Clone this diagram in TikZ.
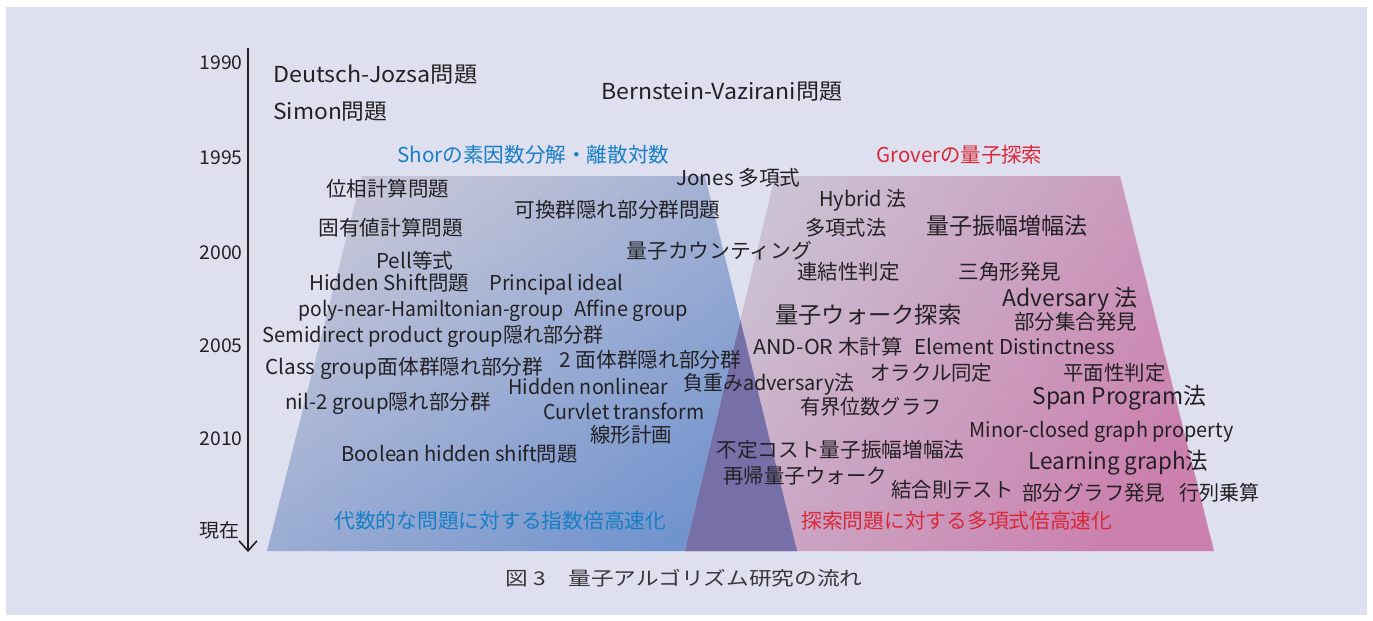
\documentclass[tikz,border=0pt]{standalone}
\usepackage{fontspec}
\setmainfont{Noto Sans CJK JP}
\usetikzlibrary{arrows.meta}
\definecolor{panel}{RGB}{222,224,239}
\definecolor{ink}{RGB}{35,33,36}
\definecolor{bluetl}{RGB}{196,197,216}
\definecolor{bluebr}{RGB}{114,148,206}
\definecolor{pinktl}{RGB}{203,194,212}
\definecolor{pinkbr}{RGB}{203,128,174}
\definecolor{overlapc}{RGB}{118,111,168}
\definecolor{shorblue}{RGB}{24,126,198}
\definecolor{grovred}{RGB}{216,40,58}
\newsavebox\fitbox
\newcommand\fitx[2]{\sbox\fitbox{#2}\pgfmathsetmacro\fitr{#1*0.5/\the\wd\fitbox}\scalebox{\fitr}[1]{\usebox\fitbox}}
\tikzset{
  lab/.style={anchor=west, inner sep=0pt, text=ink, text height=0.86em, text depth=0.14em, font=\fontsize{10.25}{12}\selectfont},
  big/.style={lab, font=\fontsize{11.5}{14}\selectfont},
  mid/.style={lab, font=\fontsize{11}{13}\selectfont},
  title/.style={lab},
  yearlab/.style={anchor=east, inner sep=0pt, text=ink, text height=0.86em, text depth=0.14em, font=\fontsize{9.5}{11}\selectfont},
  axisline/.style={line width=0.8pt, draw=ink, -{Straight Barb[length=5pt,width=9pt,line width=0.8pt]}},
}
\begin{document}
\begin{tikzpicture}[x=0.5pt,y=-0.5pt]
\useasboundingbox (0,0) rectangle (1373,621);
\fill[white] (0,0) rectangle (1373,621);
\fill[panel] (6,7) rectangle (1367,615);
% regions
\shade[top color=bluetl, bottom color=bluebr, shading angle=35] (362,176) -- (705,176) -- (797,551) -- (267,551) -- cycle;
\shade[top color=pinktl, bottom color=pinkbr, shading angle=55] (775,176) -- (1120,176) -- (1214,551) -- (685,551) -- cycle;
\fill[overlapc] (740.4,320.2) -- (797,551) -- (685,551) -- cycle;
% axis
\coordinate (axtop) at (248,48);
\coordinate (axbot) at (248,552);
\draw[axisline] (axtop) -- (axbot);
\node[yearlab] (y1990) at (243,62) {\fitx{43}{1990}};
\node[yearlab] (y1995) at (243,157) {\fitx{43}{1995}};
\node[yearlab] (y2000) at (243,252) {\fitx{43}{2000}};
\node[yearlab] (y2005) at (243,345) {\fitx{43}{2005}};
\node[yearlab] (y2010) at (243,438) {\fitx{43}{2010}};
\node[yearlab] (ynow) at (240,530) {\fitx{40}{現在}};
% top
\node[mid] (dj) at (273,75) {\fitx{204}{Deutsch-Jozsa問題}};
\node[mid] (simon) at (273,112) {\fitx{114}{Simon問題}};
\node[mid] (bv) at (601,92) {\fitx{241}{Bernstein-Vazirani問題}};
% titles
\node[title, text=shorblue] (shor) at (397,155) {\fitx{272}{Shorの素因数分解・離散対数}};
\node[title, text=grovred] (grover) at (876,155) {\fitx{166}{Groverの量子探索}};
% blue region
\node[lab] (b1) at (326,189) {\fitx{123}{位相計算問題}};
\node[lab] (b2) at (676,178) {\fitx{124}{Jones 多項式}};
\node[lab] (b3) at (514,210) {\fitx{206}{可換群隠れ部分群問題}};
\node[lab] (b4) at (318,228) {\fitx{145}{固有値計算問題}};
\node[lab] (b5) at (626,251) {\fitx{186}{量子カウンティング}};
\node[lab] (b6) at (376,261) {\fitx{77}{Pell等式}};
\node[lab] (b7) at (309,283) {\fitx{160}{Hidden Shift問題}};
\node[lab] (b8) at (489,283) {\fitx{134}{Principal ideal}};
\node[lab] (b9) at (298,309) {\fitx{265}{poly-near-Hamiltonian-group}};
\node[lab] (b10) at (574,309) {\fitx{114}{Affine group}};
\node[lab] (b11) at (262,335) {\fitx{341}{Semidirect product group隠れ部分群}};
\node[lab] (b12) at (265,367) {\fitx{278}{Class group面体群隠れ部分群}};
\node[lab] (b13) at (559,360) {\fitx{182}{2 面体群隠れ部分群}};
\node[lab] (b14) at (508,387) {\fitx{160}{Hidden nonlinear}};
\node[lab] (b15) at (683,383) {\fitx{171}{負重みadversary法}};
\node[lab] (b16) at (285,402) {\fitx{205}{nil-2 group隠れ部分群}};
\node[lab] (b17) at (543,412) {\fitx{161}{Curvlet transform}};
\node[lab] (b18) at (590,435) {\fitx{82}{線形計画}};
\node[lab] (b19) at (341,454) {\fitx{236}{Boolean hidden shift問題}};
\node[title, text=shorblue] (bsum) at (334,521) {\fitx{332}{代数的な問題に対する指数倍高速化}};
% pink region
\node[lab] (p1) at (819,199) {\fitx{87}{Hybrid 法}};
\node[lab] (p2) at (805,228) {\fitx{81}{多項式法}};
\node[big] (p3) at (926,227) {\fitx{161}{量子振幅増幅法}};
\node[lab] (p4) at (797,272) {\fitx{102}{連結性判定}};
\node[lab] (p5) at (958,272) {\fitx{103}{三角形発見}};
\node[big] (p6) at (1002,299) {\fitx{135}{Adversary 法}};
\node[big] (p7) at (775,316) {\fitx{186}{量子ウォーク探索}};
\node[lab] (p8) at (1014,322) {\fitx{123}{部分集合発見}};
\node[lab] (p9) at (753,347) {\fitx{149}{AND-OR 木計算}};
\node[lab] (p10) at (914,347) {\fitx{201}{Element Distinctness}};
\node[lab] (p11) at (870,373) {\fitx{122}{オラクル同定}};
\node[lab] (p12) at (1063,373) {\fitx{102}{平面性判定}};
\node[big] (p13) at (1032,397) {\fitx{174}{Span Program法}};
\node[lab] (p14) at (800,407) {\fitx{141}{有界位数グラフ}};
\node[lab] (p15) at (969,430) {\fitx{264}{Minor-closed graph property}};
\node[lab] (p16) at (716,450) {\fitx{248}{不定コスト量子振幅増幅法}};
\node[big] (p17) at (1028,462) {\fitx{180}{Learning graph法}};
\node[lab] (p18) at (723,476) {\fitx{164}{再帰量子ウォーク}};
\node[lab] (p19) at (891,490) {\fitx{122}{結合則テスト}};
\node[lab] (p20) at (1022,493) {\fitx{143}{部分グラフ発見}};
\node[lab] (p21) at (1179,493) {\fitx{80}{行列乗算}};
\node[title, text=grovred] (psum) at (801,521) {\fitx{311}{探索問題に対する多項式倍高速化}};
% caption
\node[lab, text=ink!90, font=\fontsize{9.5}{11}\selectfont] (cap) at (505,578) {\fitx{357}{図 3\hspace{1em}量子アルゴリズム研究の流れ}};
\end{tikzpicture}
\end{document}
